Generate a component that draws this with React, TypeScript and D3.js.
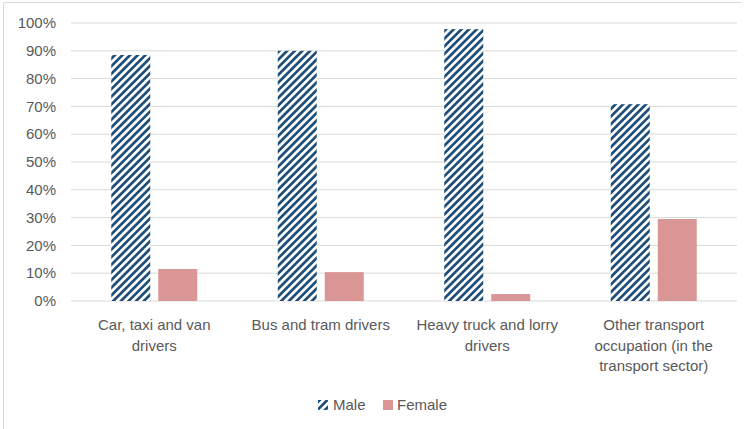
import React from "react";
import * as d3 from "d3";

const categories: string[][] = [
  ["Car, taxi and van", "drivers"],
  ["Bus and tram drivers"],
  ["Heavy truck and lorry", "drivers"],
  ["Other transport", "occupation (in the", "transport sector)"],
];
const maleValues = [0.885, 0.9, 0.978, 0.708];
const femaleValues = [0.115, 0.104, 0.025, 0.295];
const yTicks = [0, 0.1, 0.2, 0.3, 0.4, 0.5, 0.6, 0.7, 0.8, 0.9, 1.0];
const seriesNames = ["Male", "Female"];

const W = 750;
const H = 429;
const plot = { left: 71, right: 737, top: 23, bottom: 301 };
const textColor = "#595959";
const maleColor = "#1F4E79";
const femaleColor = "#D99694";
const font = "'Liberation Sans', Arial, sans-serif";

export default function App() {
  const x = d3
    .scaleBand<number>()
    .domain(categories.map((_, i) => i))
    .range([plot.left, plot.right]);
  const y = d3.scaleLinear().domain([0, 1]).range([plot.bottom, plot.top]);
  const barW = 39;
  const gap = 8;
  const fmt = d3.format(".0%");

  return (
    <svg
      width={W}
      height={H}
      style={{ position: "absolute", left: 0, top: 0, background: "#fff" }}
      fontFamily={font}
    >
      <defs>
        <pattern
          id="hatch"
          patternUnits="userSpaceOnUse"
          width={5.4}
          height={5.4}
          patternTransform="rotate(45)"
        >
          <rect x={0} y={0} width={5.4} height={5.4} fill="#fff" />
          <rect x={0} y={0} width={2.7} height={5.4} fill={maleColor} />
        </pattern>
      </defs>
      <line x1={3.5} y1={2.5} x2={741} y2={2.5} stroke="#d9d9d9" strokeWidth={1} />
      <line x1={3.5} y1={2.5} x2={3.5} y2={429} stroke="#d9d9d9" strokeWidth={1} />
      {yTicks.map((t) => (
        <g key={t}>
          <line
            x1={plot.left}
            x2={plot.right}
            y1={y(t)}
            y2={y(t)}
            stroke="#d9d9d9"
            strokeWidth={1}
          />
          <text
            x={56}
            y={y(t)}
            dy="0.35em"
            textAnchor="end"
            fontSize={15}
            fill={textColor}
          >
            {fmt(t)}
          </text>
        </g>
      ))}
      {categories.map((c, i) => {
        const cx = (x(i) as number) + x.bandwidth() / 2;
        return (
          <g key={i}>
            <rect
              x={cx - gap / 2 - barW}
              y={y(maleValues[i])}
              width={barW}
              height={y(0) - y(maleValues[i])}
              fill="url(#hatch)"
            />
            <rect
              x={cx + gap / 2}
              y={y(femaleValues[i])}
              width={barW}
              height={y(0) - y(femaleValues[i])}
              fill={femaleColor}
            />
            {c.map((line, j) => (
              <text
                key={j}
                x={cx}
                y={325 + j * 20.5}
                dy="0.35em"
                textAnchor="middle"
                fontSize={15}
                fill={textColor}
              >
                {line}
              </text>
            ))}
          </g>
        );
      })}
      <g>
        <rect x={318} y={400} width={10} height={10} fill="url(#hatch)" />
        <text x={333} y={405} dy="0.35em" fontSize={15} fill={textColor}>
          {seriesNames[0]}
        </text>
        <rect x={383} y={400} width={10} height={10} fill={femaleColor} />
        <text x={397} y={405} dy="0.35em" fontSize={15} fill={textColor}>
          {seriesNames[1]}
        </text>
      </g>
    </svg>
  );
}
